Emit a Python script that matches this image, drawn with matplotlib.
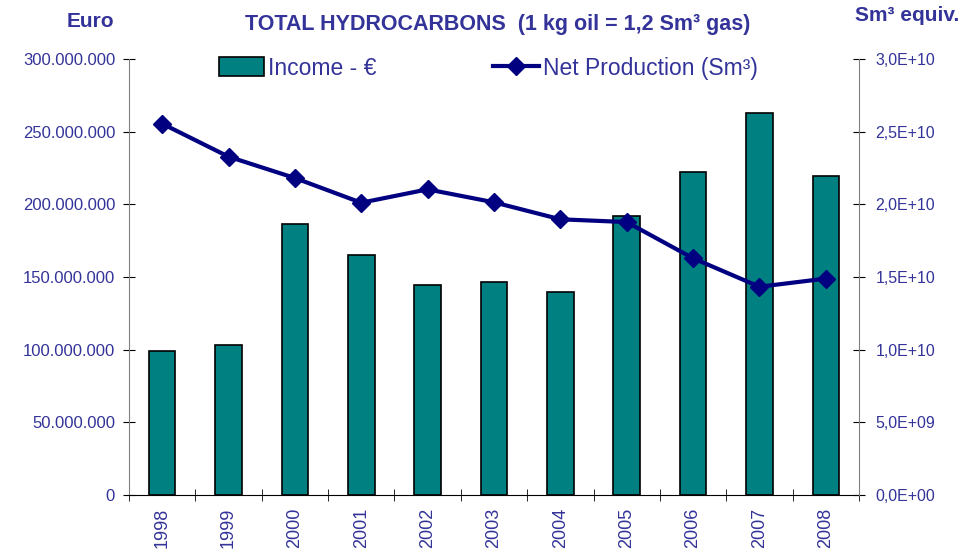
import numpy as np
import matplotlib.pyplot as plt
from matplotlib.ticker import FuncFormatter, MultipleLocator

plt.rcParams["font.family"] = ["Liberation Sans", "DejaVu Sans"]

years = ["1998", "1999", "2000", "2001", "2002", "2003", "2004", "2005", "2006", "2007", "2008"]
income = [99.0e6, 103.0e6, 186.3e6, 165.0e6, 144.3e6, 146.8e6, 139.9e6, 192.0e6, 222.5e6, 262.6e6, 219.5e6]
production = [2.555e10, 2.328e10, 2.181e10, 2.011e10, 2.103e10, 2.014e10, 1.897e10, 1.878e10, 1.629e10, 1.433e10, 1.489e10]

text_blue = "#333399"
teal = "#008080"
navy = "#000080"

fig = plt.figure(figsize=(9.8, 5.55), dpi=100)
ax = fig.add_axes([0.1316, 0.1081, 0.7449, 0.7856])
ax2 = ax.twinx()

x = np.arange(len(years))
bars = ax.bar(x, income, width=0.4, color=teal, edgecolor="black", linewidth=1.2,
              label="Income - €", zorder=2)
line, = ax2.plot(x, production, color=navy, linewidth=3, marker="D", markersize=9.5,
                 label="Net Production (Sm³)", zorder=3)

ax.set_xlim(-0.5, len(years) - 0.5)
ax.set_ylim(0, 300e6)
ax2.set_ylim(0, 3e10)

ax.yaxis.set_major_locator(MultipleLocator(50e6))
ax2.yaxis.set_major_locator(MultipleLocator(5e9))


def euro_fmt(v, pos):
    if v == 0:
        return "0"
    return f"{int(round(v)):,}".replace(",", ".")


def sci_fmt(v, pos):
    m, e = f"{v:.1E}".split("E")
    return f"{m.replace('.', ',')}E{e[0]}{e[1:].zfill(2)}"


ax.yaxis.set_major_formatter(FuncFormatter(euro_fmt))
ax2.yaxis.set_major_formatter(FuncFormatter(sci_fmt))

ax.set_xticks(x)
ax.set_xticklabels(years, rotation=90)
ax.set_xticks(np.arange(-0.5, len(years)), minor=True)
ax.tick_params(axis="x", which="major", length=0, pad=9, labelsize=13, labelcolor=text_blue)
ax.tick_params(axis="x", which="minor", length=8, direction="inout", color="black")
ax.tick_params(axis="y", length=8, direction="inout", labelsize=12, labelcolor=text_blue, pad=6)
ax2.tick_params(axis="y", length=8, direction="inout", labelsize=11.5, labelcolor=text_blue, pad=8)

for a in (ax, ax2):
    a.spines["top"].set_visible(False)
ax.spines["left"].set_color("#808080")
ax2.spines["right"].set_color("#808080")
ax2.spines["left"].set_visible(False)
ax2.spines["bottom"].set_visible(False)
ax.spines["bottom"].set_color("black")
ax.spines["right"].set_visible(False)

fig.legend([bars, line], ["Income - €", "Net Production (Sm³)"], loc="center",
           bbox_to_anchor=(0.498, 0.877), ncol=2, frameon=False, fontsize=16.5,
           handlelength=2.0, handleheight=0.9, columnspacing=5.1, handletextpad=0.15,
           labelcolor=text_blue)

fig.text(0.508, 0.955, "TOTAL HYDROCARBONS  (1 kg oil = 1,2 Sm³ gas)", ha="center", va="center",
         fontsize=15.5, fontweight="bold", color=text_blue)
fig.text(0.092, 0.962, "Euro", ha="center", va="center", fontsize=15, fontweight="bold", color=text_blue)
fig.text(0.926, 0.972, "Sm³ equiv.", ha="center", va="center", fontsize=15, fontweight="bold", color=text_blue)

fig.savefig("out.png", dpi=100)
